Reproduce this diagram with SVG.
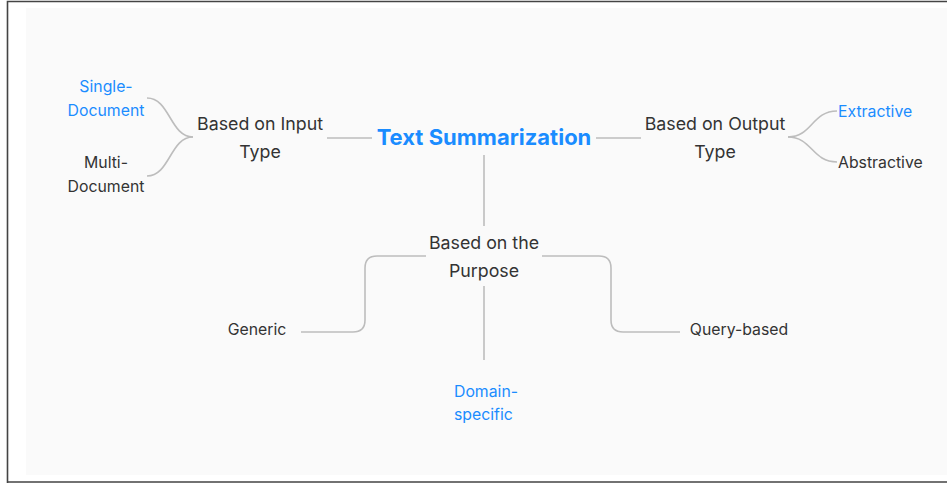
<svg xmlns="http://www.w3.org/2000/svg" width="947" height="483" viewBox="0 0 947 483">
<style>
text{font-family:Inter,"Noto Sans","Liberation Sans",sans-serif;text-anchor:middle;fill:#333}
.t1{font-size:17.8px}
.t2{font-size:15.8px}
.blue{fill:#1a8cff}
.root{font-size:22px;font-weight:700;fill:#1a8cff}
.c{fill:none;stroke:#bdbdbd;stroke-width:1.6}
</style>
<rect x="0" y="0" width="947" height="483" fill="#ffffff"/>
<rect x="26" y="8" width="921" height="467" fill="#fafafa"/>
<path d="M7.5,483 V1.5 H947 M7.5,482 H947" fill="none" stroke="#444" stroke-width="1.6"/>
<g id="connectors">
<path class="c" d="M372,138 H327"/>
<path class="c" d="M596,138 H641"/>
<path class="c" d="M484,155 V226"/>
<path class="c" d="M484,286 V360"/>
<path class="c" d="M193,137 C170,137 170,98 147,98"/>
<path class="c" d="M193,137 C170,137 170,176 147,176"/>
<path class="c" d="M788,137 C812,137 812,111 837,111"/>
<path class="c" d="M788,137 C812,137 812,162 837,162"/>
<path class="c" d="M426,256 H377 Q365,256 365,268 V320 Q365,332 353,332 H301"/>
<path class="c" d="M542,256 H599 Q611,256 611,268 V320 Q611,332 623,332 H680"/>
</g>
<g id="root"><text class="root" x="484" y="145">Text Summarization</text></g>
<g id="input"><text class="t1" x="260" y="130">Based on Input</text><text class="t1" x="260" y="158">Type</text></g>
<g id="output"><text class="t1" x="715" y="130">Based on Output</text><text class="t1" x="715" y="158">Type</text></g>
<g id="purpose"><text class="t1" x="484" y="249">Based on the</text><text class="t1" x="484" y="277">Purpose</text></g>
<g id="single"><text class="t2 blue" x="106" y="92">Single-</text><text class="t2 blue" x="106" y="116">Document</text></g>
<g id="multi"><text class="t2" x="106" y="168">Multi-</text><text class="t2" x="106" y="192">Document</text></g>
<g id="extractive"><text class="t2 blue" x="838" y="117" style="text-anchor:start">Extractive</text></g>
<g id="abstractive"><text class="t2" x="838" y="168" style="text-anchor:start">Abstractive</text></g>
<g id="generic"><text class="t2" x="257" y="335">Generic</text></g>
<g id="query"><text class="t2" x="739" y="335">Query-based</text></g>
<g id="domain"><text class="t2 blue" x="454" y="397" style="text-anchor:start">Domain-</text><text class="t2 blue" x="454" y="420" style="text-anchor:start">specific</text></g>
</svg>
